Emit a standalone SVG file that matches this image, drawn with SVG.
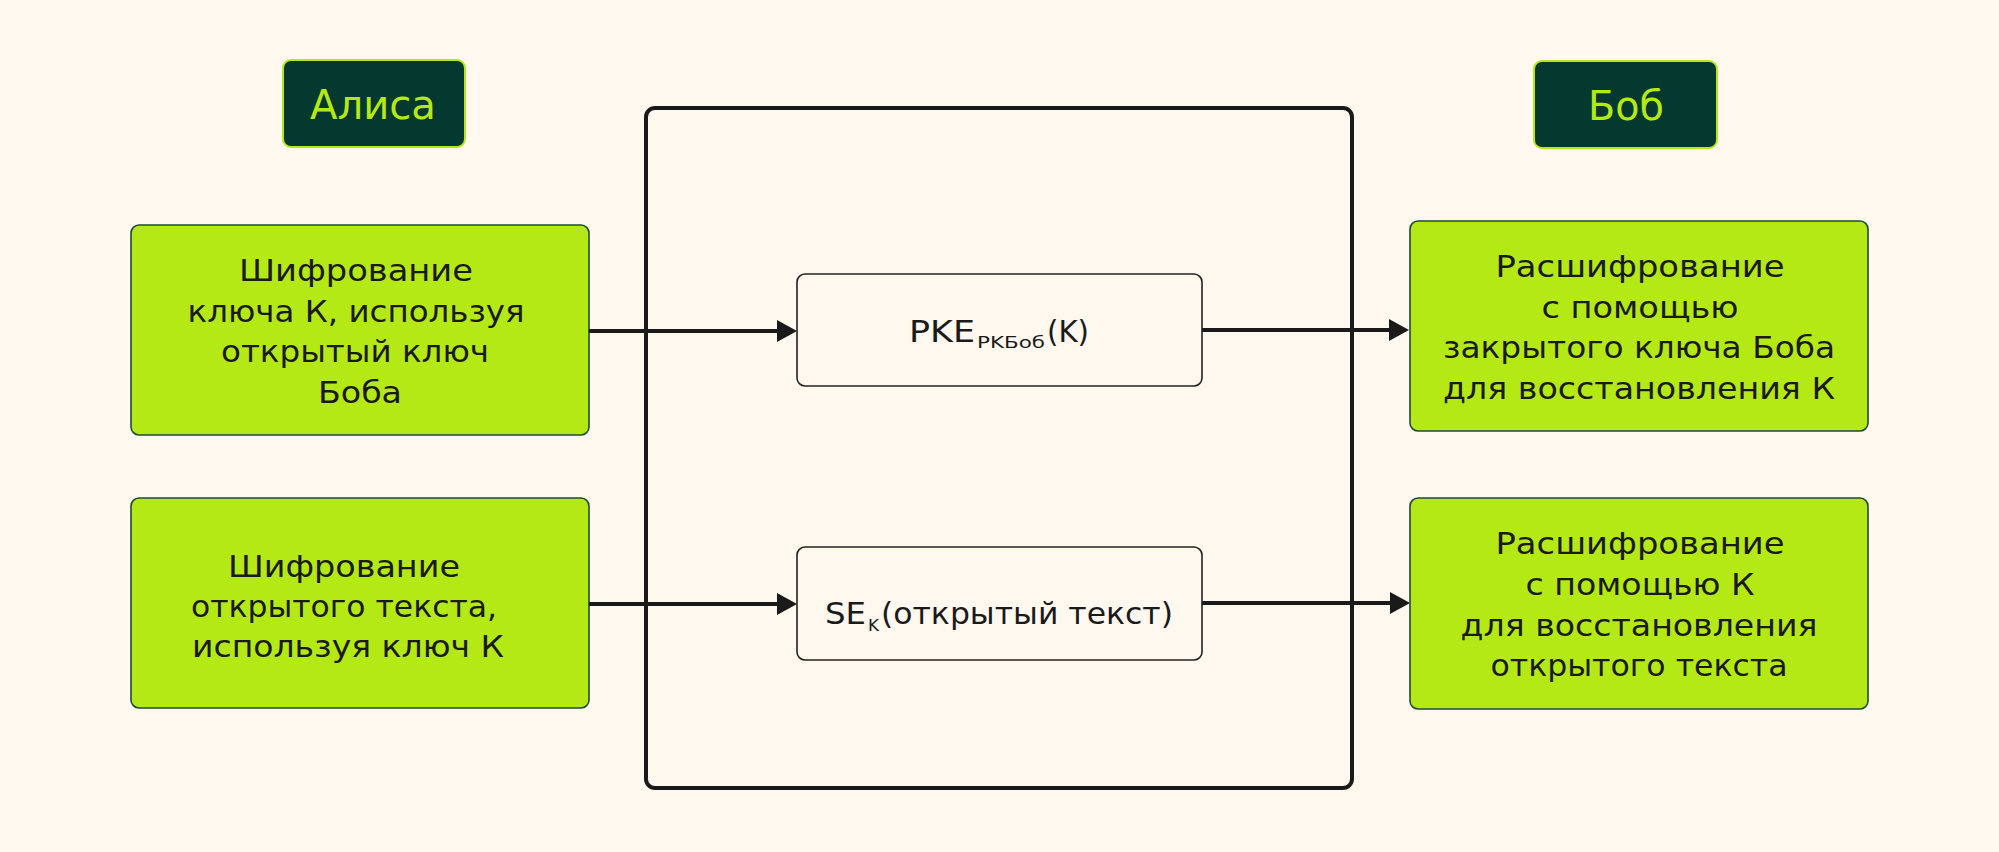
<svg xmlns="http://www.w3.org/2000/svg" width="1999" height="852" viewBox="0 0 1999 852">
<style>
.t{font-family:"DejaVu Sans","Noto Sans",sans-serif;fill:#1a1a1a;font-size:31px}
.s{font-family:"DejaVu Sans","Noto Sans",sans-serif;fill:#1a1a1a;font-size:16px}
.hdr{font-family:"DejaVu Sans","Noto Sans",sans-serif;fill:#B5E916;font-size:40px}
.hbox{fill:#05382F;stroke:#B5E916;stroke-width:2}
.gbox{fill:#B4E916;stroke:#1F4A3A;stroke-width:1.6}
.wbox{fill:#FFF8EE;stroke:#222;stroke-width:1.6}
.conn{stroke:#1a1a1a;stroke-width:4;fill:none}
</style>
<defs>
<marker id="ah" markerUnits="userSpaceOnUse" markerWidth="22" markerHeight="24" refX="10" refY="11" orient="auto">
<path d="M0,0 L20,11 L0,22 z" fill="#1a1a1a"/>
</marker>
</defs>
<rect width="1999" height="852" fill="#FFF8EE"/>

<g id="frame">
<rect x="646" y="108" width="706" height="680" rx="9" fill="none" stroke="#1a1a1a" stroke-width="4"/>
</g>

<g id="alice">
<rect class="hbox" x="283" y="60" width="182" height="87" rx="8"/>
<text class="hdr" x="373" y="119" text-anchor="middle" textLength="126" lengthAdjust="spacingAndGlyphs">Алиса</text>
</g>

<g id="bob">
<rect class="hbox" x="1534" y="61" width="183" height="87" rx="8"/>
<text class="hdr" x="1626" y="120" text-anchor="middle" textLength="76" lengthAdjust="spacingAndGlyphs">Боб</text>
</g>

<g id="enc-key">
<rect class="gbox" x="131" y="225" width="458" height="210" rx="8"/>
<text class="t" x="356" y="281" text-anchor="middle" textLength="234" lengthAdjust="spacingAndGlyphs">Шифрование</text>
<text class="t" x="356" y="322" text-anchor="middle" textLength="337" lengthAdjust="spacingAndGlyphs">ключа К, используя</text>
<text class="t" x="355" y="362" text-anchor="middle" textLength="268" lengthAdjust="spacingAndGlyphs">открытый ключ</text>
<text class="t" x="360" y="403" text-anchor="middle" textLength="84" lengthAdjust="spacingAndGlyphs">Боба</text>
</g>

<g id="enc-text">
<rect class="gbox" x="131" y="498" width="458" height="210" rx="8"/>
<text class="t" x="344" y="577" text-anchor="middle" textLength="232" lengthAdjust="spacingAndGlyphs">Шифрование</text>
<text class="t" x="344" y="617" text-anchor="middle" textLength="306" lengthAdjust="spacingAndGlyphs">открытого текста,</text>
<text class="t" x="348" y="657" text-anchor="middle" textLength="312" lengthAdjust="spacingAndGlyphs">используя ключ К</text>
</g>

<g id="pke">
<rect class="wbox" x="797" y="274" width="405" height="112" rx="8"/>
<text class="t" x="909" y="342" textLength="66" lengthAdjust="spacingAndGlyphs">PKE</text>
<text class="s" x="977" y="348" textLength="68" lengthAdjust="spacingAndGlyphs">PKБоб</text>
<text class="t" x="1047" y="342" textLength="42" lengthAdjust="spacingAndGlyphs">(K)</text>
</g>

<g id="se">
<rect class="wbox" x="797" y="547" width="405" height="113" rx="8"/>
<text class="t" x="825" y="624" textLength="41" lengthAdjust="spacingAndGlyphs">SE</text>
<text class="s" x="868" y="631" textLength="11" lengthAdjust="spacingAndGlyphs">K</text>
<text class="t" x="881" y="624" textLength="292" lengthAdjust="spacingAndGlyphs">(открытый текст)</text>
</g>

<g id="dec-key">
<rect class="gbox" x="1410" y="221" width="458" height="210" rx="8"/>
<text class="t" x="1640" y="277" text-anchor="middle" textLength="289" lengthAdjust="spacingAndGlyphs">Расшифрование</text>
<text class="t" x="1640" y="318" text-anchor="middle" textLength="197" lengthAdjust="spacingAndGlyphs">с помощью</text>
<text class="t" x="1639" y="358" text-anchor="middle" textLength="392" lengthAdjust="spacingAndGlyphs">закрытого ключа Боба</text>
<text class="t" x="1639" y="399" text-anchor="middle" textLength="392" lengthAdjust="spacingAndGlyphs">для восстановления К</text>
</g>

<g id="dec-text">
<rect class="gbox" x="1410" y="498" width="458" height="211" rx="8"/>
<text class="t" x="1640" y="554" text-anchor="middle" textLength="289" lengthAdjust="spacingAndGlyphs">Расшифрование</text>
<text class="t" x="1640" y="595" text-anchor="middle" textLength="229" lengthAdjust="spacingAndGlyphs">с помощью К</text>
<text class="t" x="1639" y="636" text-anchor="middle" textLength="357" lengthAdjust="spacingAndGlyphs">для восстановления</text>
<text class="t" x="1639" y="676" text-anchor="middle" textLength="297" lengthAdjust="spacingAndGlyphs">открытого текста</text>
</g>

<g id="connectors">
<line class="conn" x1="589" y1="331" x2="787" y2="331" marker-end="url(#ah)"/>
<line class="conn" x1="1202" y1="330" x2="1399" y2="330" marker-end="url(#ah)"/>
<line class="conn" x1="589" y1="604" x2="787" y2="604" marker-end="url(#ah)"/>
<line class="conn" x1="1202" y1="603" x2="1400" y2="603" marker-end="url(#ah)"/>
</g>
</svg>
